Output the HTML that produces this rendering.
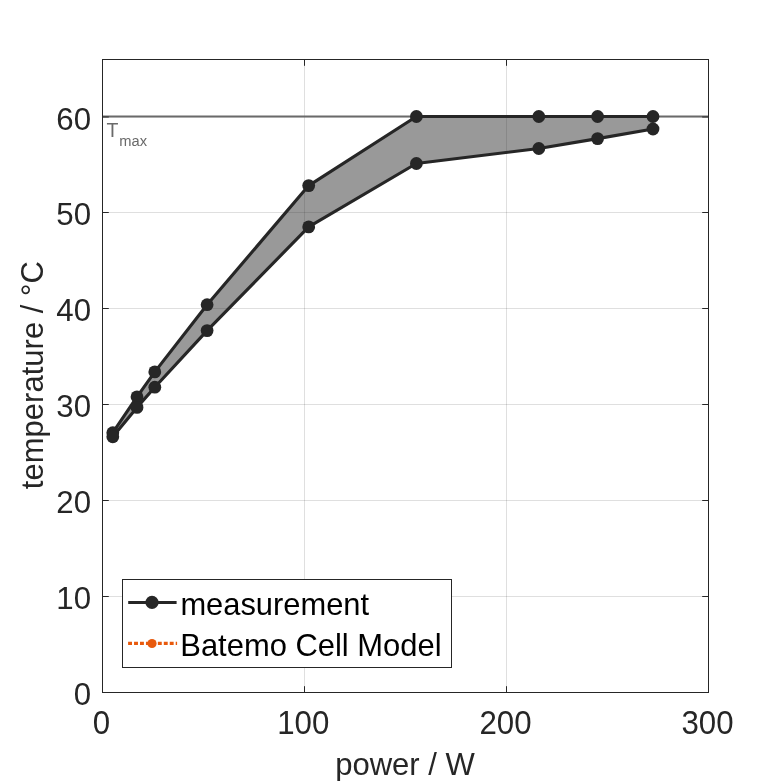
<!DOCTYPE html>
<html><head><meta charset="utf-8"><title>plot</title>
<style>
html,body{margin:0;padding:0;background:#fff;}
body{width:781px;height:781px;overflow:hidden;}
svg{display:block;font-family:"Liberation Sans",Arial,sans-serif;}
.tk{font-size:31.25px;fill:#262626;}
.lb{font-size:31.25px;fill:#262626;}
.lg{font-size:31.25px;fill:#000;}
.tm{fill:#6a6a6a;}
</style></head><body>
<svg width="781" height="781" viewBox="0 0 781 781">
<rect width="781" height="781" fill="#fff"/>
<g stroke="#262626" stroke-opacity="0.15" stroke-width="1"><line x1="304.5" y1="59.5" x2="304.5" y2="692.5"/><line x1="506.5" y1="59.5" x2="506.5" y2="692.5"/><line x1="102.5" y1="596.5" x2="708.5" y2="596.5"/><line x1="102.5" y1="500.5" x2="708.5" y2="500.5"/><line x1="102.5" y1="404.5" x2="708.5" y2="404.5"/><line x1="102.5" y1="308.5" x2="708.5" y2="308.5"/><line x1="102.5" y1="212.5" x2="708.5" y2="212.5"/><line x1="102.5" y1="117.0" x2="708.5" y2="117.0"/></g>
<line x1="102.5" y1="116.5" x2="708.5" y2="116.5" stroke="#6a6a6a" stroke-width="2.08"/>
<text class="tm" transform="translate(106.60,137.00) scale(1,1.040)" text-anchor="start" font-size="19.5">T</text><text class="tm" transform="translate(119.30,145.80)" text-anchor="start" font-size="14.7">max</text>
<polygon points="112.8,432.7 137.0,396.8 154.8,371.9 207.1,304.7 308.7,185.6 416.4,116.5 538.8,116.5 597.6,116.5 653.0,116.5 653.0,129.0 597.6,138.6 538.8,148.5 416.4,163.5 308.7,226.9 207.1,330.6 154.8,387.2 137.0,407.4 112.8,436.8" fill="#262626" fill-opacity="0.47"/>
<polyline points="112.8,432.7 137.0,396.8 154.8,371.9 207.1,304.7 308.7,185.6 416.4,116.5 538.8,116.5 597.6,116.5 653.0,116.5" fill="none" stroke="#262626" stroke-width="3.125" stroke-linejoin="round"/>
<polyline points="112.8,436.8 137.0,407.4 154.8,387.2 207.1,330.6 308.7,226.9 416.4,163.5 538.8,148.5 597.6,138.6 653.0,129.0" fill="none" stroke="#262626" stroke-width="3.125" stroke-linejoin="round"/>
<g fill="#262626"><circle cx="112.8" cy="432.7" r="6.4"/><circle cx="137.0" cy="396.8" r="6.4"/><circle cx="154.8" cy="371.9" r="6.4"/><circle cx="207.1" cy="304.7" r="6.4"/><circle cx="308.7" cy="185.6" r="6.4"/><circle cx="416.4" cy="116.5" r="6.4"/><circle cx="538.8" cy="116.5" r="6.4"/><circle cx="597.6" cy="116.5" r="6.4"/><circle cx="653.0" cy="116.5" r="6.4"/><circle cx="112.8" cy="436.8" r="6.4"/><circle cx="137.0" cy="407.4" r="6.4"/><circle cx="154.8" cy="387.2" r="6.4"/><circle cx="207.1" cy="330.6" r="6.4"/><circle cx="308.7" cy="226.9" r="6.4"/><circle cx="416.4" cy="163.5" r="6.4"/><circle cx="538.8" cy="148.5" r="6.4"/><circle cx="597.6" cy="138.6" r="6.4"/><circle cx="653.0" cy="129.0" r="6.4"/></g>
<rect x="102.5" y="59.5" width="606.0" height="633.0" fill="none" stroke="#262626" stroke-width="1"/>
<g stroke="#262626" stroke-width="1"><line x1="304.5" y1="692.5" x2="304.5" y2="686.2"/><line x1="304.5" y1="59.5" x2="304.5" y2="65.8"/><line x1="506.5" y1="692.5" x2="506.5" y2="686.2"/><line x1="506.5" y1="59.5" x2="506.5" y2="65.8"/><line x1="102.5" y1="596.5" x2="108.8" y2="596.5"/><line x1="708.5" y1="596.5" x2="702.2" y2="596.5"/><line x1="102.5" y1="500.5" x2="108.8" y2="500.5"/><line x1="708.5" y1="500.5" x2="702.2" y2="500.5"/><line x1="102.5" y1="404.5" x2="108.8" y2="404.5"/><line x1="708.5" y1="404.5" x2="702.2" y2="404.5"/><line x1="102.5" y1="308.5" x2="108.8" y2="308.5"/><line x1="708.5" y1="308.5" x2="702.2" y2="308.5"/><line x1="102.5" y1="212.5" x2="108.8" y2="212.5"/><line x1="708.5" y1="212.5" x2="702.2" y2="212.5"/><line x1="102.5" y1="117.0" x2="108.8" y2="117.0"/><line x1="708.5" y1="117.0" x2="702.2" y2="117.0"/></g>
<text class="tk" transform="translate(101.50,734.40) scale(1,1.035)" text-anchor="middle">0</text>
<text class="tk" transform="translate(303.20,734.40) scale(1,1.035)" text-anchor="middle">100</text>
<text class="tk" transform="translate(505.50,734.40) scale(1,1.035)" text-anchor="middle">200</text>
<text class="tk" transform="translate(707.50,734.40) scale(1,1.035)" text-anchor="middle">300</text>
<text class="tk" transform="translate(91.10,705.20) scale(1,1.025)" text-anchor="end">0</text>
<text class="tk" transform="translate(91.10,609.20) scale(1,1.025)" text-anchor="end">10</text>
<text class="tk" transform="translate(91.10,513.20) scale(1,1.025)" text-anchor="end">20</text>
<text class="tk" transform="translate(91.10,417.20) scale(1,1.025)" text-anchor="end">30</text>
<text class="tk" transform="translate(91.10,321.20) scale(1,1.025)" text-anchor="end">40</text>
<text class="tk" transform="translate(91.10,225.20) scale(1,1.025)" text-anchor="end">50</text>
<text class="tk" transform="translate(91.10,130.40) scale(1,1.025)" text-anchor="end">60</text>
<text class="lb" transform="translate(405.00,774.90) scale(1,1.030)" text-anchor="middle" style="font-size:31.05px">power / W</text>
<text class="lb" transform="translate(43.00,375.20) rotate(-90) scale(1,1.025)" text-anchor="middle" style="font-size:31.05px">temperature / °C</text>
<rect x="122.5" y="579.5" width="329" height="88" fill="#fff" stroke="#262626" stroke-width="1"/>
<line x1="128.2" y1="602.45" x2="176.6" y2="602.45" stroke="#262626" stroke-width="3.125"/><circle cx="152" cy="602.4" r="6.6" fill="#262626"/>
<line x1="128.1" y1="643.45" x2="177.1" y2="643.45" stroke="#e8590c" stroke-width="3.3" stroke-dasharray="3.9 2.05"/><circle cx="152" cy="643.5" r="4.6" fill="#e8590c"/>
<text class="lg" transform="translate(180.40,614.70) scale(1,1.010)" text-anchor="start" style="font-size:30.88px">measurement</text>
<text class="lg" transform="translate(180.30,655.90) scale(1,1.040)" text-anchor="start" style="font-size:30.94px">Batemo Cell Model</text>
</svg></body></html>
